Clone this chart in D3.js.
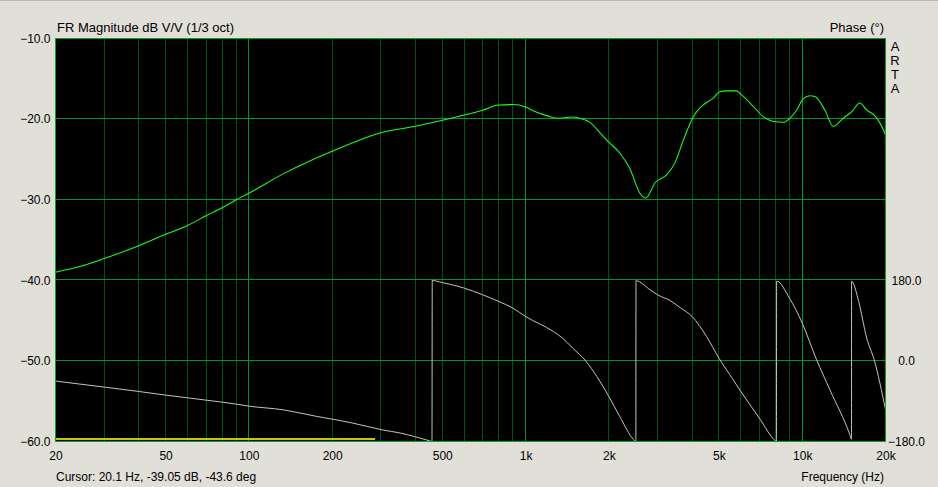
<!DOCTYPE html>
<html><head><meta charset="utf-8">
<script src="https://cdn.jsdelivr.net/npm/d3@7"></script>
<style>
html,body{margin:0;padding:0;background:#e0dfd8;}
svg{display:block;font-family:"Liberation Sans",Arial,sans-serif;}
</style></head>
<body>
<svg id="chart" width="938" height="487"></svg>
<script>
// ---- data ----
const magFreq = [20,25,30,40,50,60,70,80,90,100,133,166,200,300,400,500,600,700,800,900,1000,1070,1200,1300,1470,1570,1710,1880,1990,2190,2380,2590,2720,2940,3240,3470,3720,4040,4270,4770,5040,5330,5790,6040,6650,7230,7860,8540,9020,9540,10080,10660,11120,12080,12940,14060,15080,16150,17080,18320,19100,20000];
const magDb = [-39.0,-38.2,-37.3,-35.7,-34.3,-33.2,-32.0,-31.0,-30.0,-29.2,-26.8,-25.2,-24.0,-21.7,-20.9,-20.15,-19.5,-18.9,-18.25,-18.2,-18.5,-19.0,-19.6,-19.9,-19.75,-19.9,-20.4,-21.9,-22.8,-24.2,-26.1,-29.2,-29.8,-27.9,-26.9,-25.4,-22.6,-19.7,-18.6,-17.4,-16.6,-16.5,-16.5,-17.0,-18.4,-19.7,-20.3,-20.4,-19.9,-18.9,-17.5,-17.1,-17.2,-18.9,-20.9,-19.9,-19.1,-18.0,-18.85,-19.6,-20.5,-21.9];

const phaseFreq = [20,30,40,50,60,70,80,90,100,133,176,200,232,306,352,400,450,459,460,500,600,700,800,900,1000,1260,1360,1480,1650,1810,2000,2190,2460,2505,2507,2816,3000,3326,3640,4000,4510,5000,5630,6000,7000,8000,8070,8080,9000,10000,11270,12590,14870,15070,15080,16000,17100,18200,20000];
const phaseDeg = [-45,-58.5,-68.3,-76.4,-82.4,-87.6,-92.1,-96.5,-101,-109.2,-124,-130,-137.5,-154.5,-161,-169.5,-178.5,-180,179.5,175,162.6,147.6,132.7,117.9,99.2,65.7,50.9,28.6,0,-34.8,-79.5,-124,-176,-180,179,159,147.6,135,118,99.2,54.5,6.2,-42.2,-68.3,-127.7,-178.4,-180,178,140,84.4,2.5,-64.5,-165,-175,178,132.7,51,2.5,-109];

const markerFreq = [20, 285];
const markerDb = [-59.69, -59.69];

const freqTicks = [20,50,100,200,500,1000,2000,5000,10000,20000];
const freqTickLabels = ["20","50","100","200","500","1k","2k","5k","10k","20k"];
const dbTicks = [-10,-20,-30,-40,-50,-60];
const phaseTicks = [180,0,-180];

const titleLeft = "FR Magnitude dB V/V (1/3 oct)";
const titleRight = "Phase (°)";
const brand = ["A","R","T","A"];
const cursorText = "Cursor: 20.1 Hz, -39.05 dB, -43.6 deg";
const xTitle = "Frequency (Hz)";

// ---- layout ----
const L = 55.5, R = 885.5, T = 38.5, B = 441.5;
const svg = d3.select("#chart");
const x = d3.scaleLog().domain([20,20000]).range([L,R]);
const y = d3.scaleLinear().domain([-60,-10]).range([B,T]);
const yp = d3.scaleLinear().domain([-180,180]).range([B, y(-40)]);

svg.append("rect").attr("x",0).attr("y",0).attr("width",938).attr("height",1).attr("fill","#b8b8b8");
svg.append("rect").attr("x",L).attr("y",T).attr("width",R-L).attr("height",B-T).attr("fill","#000");

const px = v => Math.floor(x(v)) + 0.5;
const py = v => Math.round(y(v)) + 0.5;

// vertical grid
const g = svg.append("g").attr("shape-rendering","crispEdges");
x.ticks().filter(v => v > 20 && v < 20000).forEach(v => {
  const major = Math.abs(Math.log10(v) - Math.round(Math.log10(v))) < 1e-9;
  g.append("line").attr("x1",px(v)).attr("x2",px(v)).attr("y1",T).attr("y2",B)
   .attr("stroke", major ? "#00962a" : "#004f14").attr("stroke-width",1);
});
// horizontal grid
dbTicks.filter(v => v > -60 && v < -10).forEach(v => {
  g.append("line").attr("x1",L).attr("x2",R).attr("y1",py(v)-1).attr("y2",py(v)-1)
   .attr("stroke","#00962a").attr("stroke-width",1);
});

// marker (yellow)
const lineGen = d3.line().x(d => x(d[0])).y(d => y(d[1]));
svg.append("path").datum(markerFreq.map((f,i)=>[f,markerDb[i]]))
  .attr("d", lineGen).attr("fill","none").attr("stroke","#c8c800").attr("stroke-width",2)
  .attr("shape-rendering","crispEdges");

// phase
const phaseLine = d3.line().x(d => x(d[0])).y(d => yp(d[1])).curve(d3.curveMonotoneX);
svg.append("path").datum(phaseFreq.map((f,i)=>[f,phaseDeg[i]]))
  .attr("d", phaseLine).attr("fill","none").attr("stroke","#c4c4c4").attr("stroke-width",1);

// magnitude
const magLine = d3.line().x(d => x(d[0])).y(d => y(d[1])).curve(d3.curveMonotoneX);
svg.append("path").datum(magFreq.map((f,i)=>[f,magDb[i]]))
  .attr("d", magLine).attr("fill","none").attr("stroke","#1cff1c").attr("stroke-width",1.05);

// border
svg.append("rect").attr("x",L).attr("y",T).attr("width",R-L).attr("height",B-T)
  .attr("fill","none").attr("stroke","#00a820").attr("stroke-width",1).attr("shape-rendering","crispEdges");

// axes
const fmtF = d3.scaleOrdinal().domain(freqTicks).range(freqTickLabels);
const xAxis = svg.append("g").attr("transform",`translate(0,${B})`)
  .call(d3.axisBottom(x).tickValues(freqTicks).tickFormat(d => fmtF(d)).tickSize(0).tickPadding(10));
xAxis.select(".domain").remove();
xAxis.selectAll("text").attr("font-size",12).attr("fill","#000").attr("font-family","Liberation Sans, Arial, sans-serif");

const yAxis = svg.append("g").attr("transform",`translate(${L},0)`)
  .call(d3.axisLeft(y).tickValues(dbTicks).tickFormat(d3.format(".1f")).tickSize(0).tickPadding(5));
yAxis.select(".domain").remove();
yAxis.selectAll("text").attr("font-size",12).attr("fill","#000").attr("font-family","Liberation Sans, Arial, sans-serif");

const pAxis = svg.append("g").attr("transform",`translate(${R},0)`)
  .call(d3.axisRight(yp).tickValues(phaseTicks).tickFormat(d3.format(".1f")).tickSize(0).tickPadding(21));
pAxis.select(".domain").remove();
pAxis.selectAll("text").attr("font-size",12).attr("fill","#000").attr("text-anchor","middle")
  .attr("font-family","Liberation Sans, Arial, sans-serif");

// titles
svg.append("text").attr("x",57).attr("y",32).attr("font-size",13).text(titleLeft);
svg.append("text").attr("x",884).attr("y",32).attr("font-size",13).attr("text-anchor","end").text(titleRight);
brand.forEach((c,i) => svg.append("text").attr("x",895).attr("y",51 + i*14)
  .attr("font-size",13).attr("text-anchor","middle").text(c));
svg.append("text").attr("x",56).attr("y",481).attr("font-size",12).text(cursorText);
svg.append("text").attr("x",884).attr("y",481).attr("font-size",12).attr("text-anchor","end").text(xTitle);
</script>
</body></html>
